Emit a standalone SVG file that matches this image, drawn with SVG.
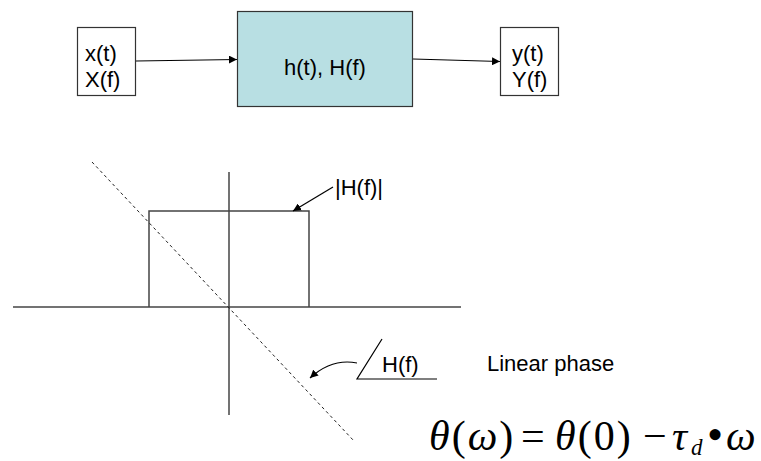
<svg xmlns="http://www.w3.org/2000/svg" width="761" height="461" viewBox="0 0 761 461">
<style>
.t{font-family:"Liberation Sans",Arial,sans-serif;font-size:22px;fill:#000}
.box{fill:#fff;stroke:#333;stroke-width:1.2}
.ln{stroke:#000;stroke-width:1.2;fill:none}
.ax{stroke:#444;stroke-width:1.5;fill:none}
.m{font-family:"Liberation Serif","Times New Roman",serif;font-size:42px;letter-spacing:2px;fill:#000}
.i{font-style:italic}
</style>
<defs>
<marker id="ah" viewBox="0 0 10 10" refX="10" refY="5" markerWidth="8" markerHeight="8" markerUnits="userSpaceOnUse" orient="auto">
<path d="M0,0 L10,5 L0,10 z" fill="#000"/>
</marker>
</defs>
<rect width="761" height="461" fill="#fff"/>
<g id="connectors">
<line class="ln" x1="136" y1="61" x2="237" y2="59.5" marker-end="url(#ah)"/>
<line class="ln" x1="413" y1="59" x2="500" y2="61.5" marker-end="url(#ah)"/>
</g>
<g id="input">
<rect class="box" x="77.5" y="27.5" width="58" height="68"/>
<text class="t" x="85" y="61">x(t)</text>
<text class="t" x="85" y="87">X(f)</text>
</g>
<g id="system">
<rect x="237.5" y="11.5" width="175" height="95" fill="#b8dfe3" stroke="#333" stroke-width="1.2"/>
<text class="t" x="325" y="75" text-anchor="middle" font-size="23px">h(t), H(f)</text>
</g>
<g id="output">
<rect class="box" x="500.5" y="27.5" width="58" height="68"/>
<text class="t" x="512" y="61">y(t)</text>
<text class="t" x="512" y="87">Y(f)</text>
</g>
<g id="plot">
<line class="ax" x1="13" y1="307" x2="461" y2="307"/>
<line class="ax" x1="229" y1="172" x2="229" y2="415"/>
<polyline class="ax" points="149,307 149,211 309,211 309,307"/>
<line x1="92" y1="162" x2="354" y2="441" stroke="#222" stroke-width="1" stroke-dasharray="3,3"/>
<text class="t" x="335" y="195">|H(f)|</text>
<line class="ln" x1="333" y1="187" x2="293" y2="211" marker-end="url(#ah)"/>
<polyline class="ln" points="382,339 357,379 437,379"/>
<text class="t" x="382" y="372">H(f)</text>
<path class="ln" d="M357,363 Q332,358 310,378" marker-end="url(#ah)"/>
<text class="t" x="487" y="371" font-size="23px">Linear phase</text>
</g>
<g id="formula">
<text class="m" y="450"><tspan class="i" x="429">θ</tspan>(<tspan class="i">ω</tspan>)<tspan x="521">=</tspan><tspan class="i" x="555">θ</tspan>(0)<tspan x="643">−</tspan><tspan class="i" x="672">τ</tspan><tspan class="i" font-size="23px" x="691" y="455">d</tspan><tspan x="707" y="450" font-size="46px">•</tspan><tspan class="i" x="726" y="450">ω</tspan></text>
</g>
</svg>
